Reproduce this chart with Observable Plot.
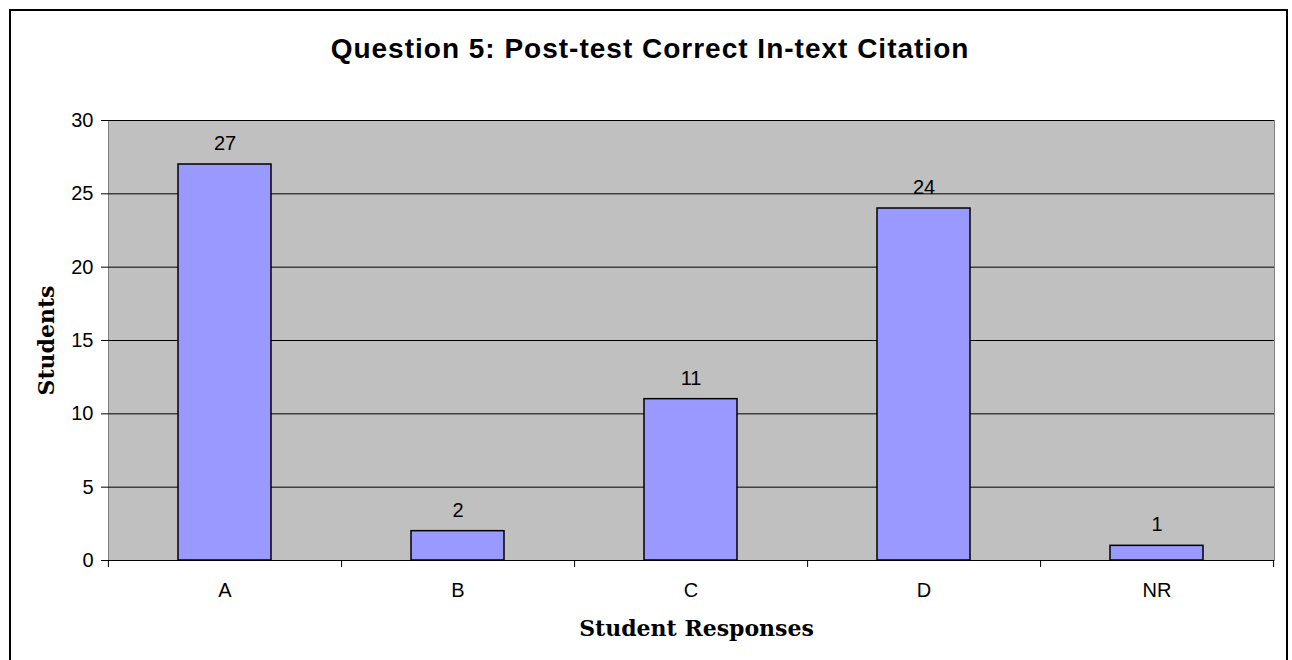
<!DOCTYPE html>
<html>
<head>
<meta charset="utf-8">
<script src="https://cdn.jsdelivr.net/npm/d3@7"></script>
<script src="https://cdn.jsdelivr.net/npm/@observablehq/plot@0.6"></script>
<style>
  html, body { margin: 0; padding: 0; background: #fff; overflow: hidden; }
  #wrap { position: relative; width: 1292px; height: 660px; }
  #border { position: absolute; left: 9px; top: 9px; width: 1275px; height: 700px; border: 2px solid #000; box-sizing: content-box; }
  #title { position: absolute; left: 0; width: 1300px; top: 33px; text-align: center; line-height: 32px;
           font-family: "Liberation Sans", Arial, sans-serif; font-weight: bold; font-size: 28px; letter-spacing: 1px; color: #000; }
  #chart { position: absolute; left: 0; top: 0; }
</style>
</head>
<body>
<div id="wrap">
  <div id="border"></div>
  <div id="chart"></div>
  <div id="title">Question 5: Post-test Correct In-text Citation</div>
</div>
<script>
const categories = ["A", "B", "C", "D", "NR"];
const students = [27, 2, 11, 24, 1];
const yTicks = [0, 5, 10, 15, 20, 25, 30];
const yLabel = "Students";
const xLabel = "Student Responses";

const data = categories.map((c, i) => ({ response: c, students: students[i] }));

const width = 1292, height = 660;
const marginLeft = 108, marginRight = 18;
const step = (width - marginLeft - marginRight) / categories.length;

const chart = Plot.plot({
  width, height,
  marginLeft, marginRight, marginTop: 120, marginBottom: 100,
  style: { fontFamily: "'Liberation Sans', Arial, sans-serif", fontSize: "20px", color: "#000", background: "transparent" },
  x: { domain: categories, paddingInner: 0.6, paddingOuter: 0.3, label: null },
  y: { domain: [0, 30], label: null },
  marks: [
    Plot.frame({ fill: "#C0C0C0", stroke: "#808080" }),
    Plot.gridY(yTicks, { stroke: "#000", strokeOpacity: 1, strokeWidth: 1 }),
    Plot.axisY(yTicks, { tickSize: 7, tickPadding: 8, fontSize: 20, stroke: "#000" }),
    Plot.axisX({ tickSize: 0, tickPadding: 22, fontSize: 20 }),
    Plot.axisX({ tickSize: 7, text: null, dx: step / 2, stroke: "#000" }),
    Plot.axisX(categories.slice(0, 1), { tickSize: 7, text: null, dx: -step / 2, stroke: "#000" }),
    Plot.barY(data, { x: "response", y: "students", fill: "#9999FF", stroke: "#000", strokeWidth: 1.5 }),
    Plot.ruleY([0], { stroke: "#000", strokeWidth: 1 }),
    Plot.text(data, { x: "response", y: "students", text: d => String(d.students), dy: -21, lineAnchor: "middle", fontSize: 20, fill: "#000" }),
    Plot.text([yLabel], { frameAnchor: "left", dx: -62, rotate: -90, textAnchor: "middle", text: d => d, fontFamily: "'DejaVu Serif', serif", fontWeight: "bold", fontSize: 22, fill: "#000" }),
    Plot.text([xLabel], { frameAnchor: "bottom", dx: 5, dy: 75, textAnchor: "middle", text: d => d, fontFamily: "'DejaVu Serif', serif", fontWeight: "bold", fontSize: 22, fill: "#000" })
  ]
});
document.getElementById("chart").appendChild(chart);
</script>
</body>
</html>
